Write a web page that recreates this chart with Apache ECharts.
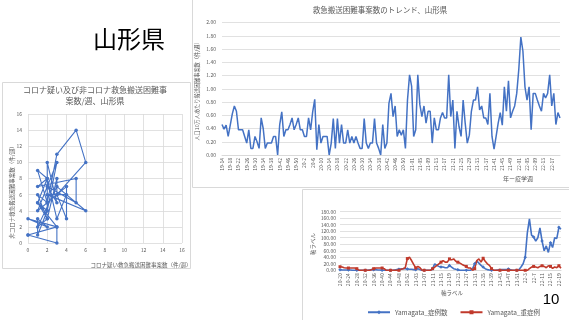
<!DOCTYPE html>
<html><head><meta charset="utf-8">
<script src="https://cdn.jsdelivr.net/npm/echarts/dist/echarts.min.js"></script>
<style>html,body{margin:0;padding:0;background:#fff}#c{width:569px;height:320px}</style>
</head><body><div id="c"></div>
<script>
const FONT = '"Noto Sans CJK JP", "Noto Sans", sans-serif';
const GRAY = '#595959';
const GRID = '#d9d9d9';
const BLUE = '#4472C4';
const RED = '#C0392B';

// ---- Left: scatter (connected) ----
const covidSuspect = [0,3,3,0,2,1,1,2,1,2,1,2,1,2,1,5,5,2,3,2,2,3,1,3,4,4,2,3,5,6,3,3,2,1,3,6,2,4,3,2,1,3,0];
const nonCovid     = [1,0,2,3,2,3,1,4,5,3,6,5,9,8,7,8,5,7,5,10,4,10,4,6,3,7,5,11,14,10,6,8,3,2,7,4,6,6,3,8,5,2,1];

// ---- Top right: trend ----
const trendStart = {year: 2019, week: 14};
const trendValues = [
 0.46,0.39,0.45,0.28,0.45,0.62,0.74,0.66,0.38,0.38,
 0.38,0.28,0.18,0.38,0.10,0.10,0.28,0.20,0.10,0.56,
 0.40,0.10,0.18,0.18,0.18,0.28,0.28,0.00,0.46,0.65,
 0.28,0.38,0.38,0.46,0.56,0.38,0.46,0.56,0.38,0.38,
 0.28,0.28,0.56,0.38,0.65,0.84,0.08,0.46,0.18,0.28,
 0.28,0.28,0.00,0.18,0.55,0.10,0.55,0.18,0.46,0.18,
 0.18,0.38,0.18,0.28,0.18,0.28,0.18,0.10,0.10,0.55,
 0.18,0.10,0.18,0.18,0.55,0.18,0.10,0.00,0.46,0.10,
 0.18,0.78,0.93,0.58,0.74,0.28,0.38,0.30,0.38,0.10,
 0.83,1.21,1.04,0.28,0.38,1.21,0.76,0.58,0.74,0.48,
 0.66,0.66,0.18,0.56,0.38,0.38,0.56,0.64,0.56,0.56,
 1.21,0.58,0.83,0.10,0.66,0.43,0.28,0.83,0.48,0.18,
 0.30,0.66,0.83,0.83,1.03,0.68,0.74,0.56,0.56,0.46,
 0.93,0.28,0.09,0.28,0.48,0.64,0.45,1.03,0.66,1.12,
 0.56,0.66,0.74,0.93,1.29,1.78,1.57,1.03,0.83,1.03,
 0.38,0.93,0.93,0.83,0.74,0.66,0.93,0.86,0.93,1.21,
 0.74,0.93,0.46,0.64,0.56
];

// ---- Bottom right: cases ----
const casesStart = {year: 2020, week: 20};
const casesValues = [
 2,1,1,1,1,1,0,0,0,0,
 0,0,0,0,1,2,2,2,1,1,
 0,0,0,0,0,0,1,2,3,4,
 5,5,4,3,3,2,2,5,2,0,
 0,0,0,0,5,20,15,12,10,10,
 8,8,15,10,5,3,2,0,0,0,
 0,0,0,5,20,28,22,15,10,5,
 2,1,0,0,0,1,1,2,2,2,
 4,2,0,0,0,2,10,20,40,115,
 158,108,102,90,100,130,90,60,75,55,
 85,70,100,98,132,126
];
const severeValues = [
 11,10,8,7,7,7,7,7,5,0,
 0,0,0,0,0,2,5,7,7,7,
 7,5,0,0,0,0,0,0,0,3,
 5,8,36,40,30,18,7,12,8,0,
 0,0,0,0,5,10,15,20,25,30,
 25,25,35,32,35,28,25,22,18,15,
 12,7,7,0,5,30,35,25,37,28,
 20,15,5,0,0,0,0,0,0,0,
 0,0,0,0,0,0,0,0,0,0,
 5,10,12,10,8,12,14,12,8,14,
 12,6,10,8,14,6
];

const weeksInYear = {2019:52, 2020:53, 2021:52, 2022:52};
function weekLabels(start, n, padYears) {
  const out = []; let y = start.year, w = start.week;
  for (let i = 0; i < n; i++) {
    const ws = padYears.includes(y) && w < 10 ? '0' + w : String(w);
    out.push(String(y % 100) + '-' + ws);
    w++; if (w > weeksInYear[y]) { w = 1; y++; }
  }
  return out;
}
const trendCategories = weekLabels(trendStart, trendValues.length, [2021, 2022]);
const casesCategories = weekLabels(casesStart, casesValues.length, [2021]);

const chart = echarts.init(document.getElementById('c'), null, {renderer: 'canvas'});

function txt(text, x, y, size, opts) {
  return Object.assign({
    type: 'text', x: x, y: y, silent: true,
    style: Object.assign({text: text, fill: GRAY, font: size + 'px ' + FONT,
      textAlign: 'center', textVerticalAlign: 'middle'}, (opts && opts.style) || {})
  }, opts && opts.rotation !== undefined ? {rotation: opts.rotation} : {});
}
function box(x, y, w, h) {
  return {type: 'rect', silent: true, shape: {x: x, y: y, width: w, height: h},
    style: {fill: 'none', stroke: GRID, lineWidth: 1}};
}

const axisLabelBase = {color: GRAY, fontFamily: FONT, fontSize: 5};

chart.setOption({
  animation: false,
  backgroundColor: '#fff',
  grid: [
    {left: 28, top: 114, width: 154, height: 129},
    {left: 222, top: 22.5, width: 338, height: 132.5},
    {left: 340, top: 211.7, width: 221, height: 58.6}
  ],
  xAxis: [
    {gridIndex: 0, type: 'value', min: 0, max: 16, interval: 2,
      axisLine: {show: false}, axisTick: {show: false},
      splitLine: {show: true, lineStyle: {color: GRID, width: 0.8}},
      axisLabel: Object.assign({margin: 5, formatter: v => String(v)}, axisLabelBase)},
    {gridIndex: 1, type: 'category', data: trendCategories, boundaryGap: false,
      axisLine: {lineStyle: {color: GRID}}, axisTick: {show: false},
      axisLabel: Object.assign({rotate: 90, interval: (i) => i % 4 === 0 && i <= 160, margin: 3}, axisLabelBase)},
    {gridIndex: 2, type: 'category', data: casesCategories, boundaryGap: false,
      axisLine: {lineStyle: {color: GRID}}, axisTick: {show: false},
      axisLabel: Object.assign({rotate: 90, interval: 3, margin: 3}, axisLabelBase)}
  ],
  yAxis: [
    {gridIndex: 0, type: 'value', min: 0, max: 16, interval: 2,
      axisLine: {show: false}, axisTick: {show: false},
      splitLine: {show: true, lineStyle: {color: GRID, width: 0.8}},
      axisLabel: Object.assign({margin: 6}, axisLabelBase)},
    {gridIndex: 1, type: 'value', min: 0, max: 2, interval: 0.2,
      axisLine: {show: false}, axisTick: {show: false},
      splitLine: {lineStyle: {color: GRID, width: 0.8}},
      axisLabel: Object.assign({margin: 6, formatter: v => v.toFixed(2)}, axisLabelBase)},
    {gridIndex: 2, type: 'value', min: 0, max: 180, interval: 20,
      axisLine: {show: false}, axisTick: {show: false},
      splitLine: {lineStyle: {color: GRID, width: 0.8}},
      axisLabel: Object.assign({margin: 4, formatter: v => v.toFixed(2)}, axisLabelBase)}
  ],
  legend: {
    data: ['Yamagata_症例数', 'Yamagata_重症例'],
    left: 362, top: 304, itemWidth: 22, itemHeight: 5, itemGap: 12,
    textStyle: {color: GRAY, fontFamily: FONT, fontSize: 6.5}
  },
  series: [
    {name: 'scatter', type: 'line', xAxisIndex: 0, yAxisIndex: 0,
      data: covidSuspect.map((x, i) => [x, nonCovid[i]]),
      symbol: 'circle', symbolSize: 3.5, showSymbol: true,
      lineStyle: {color: BLUE, width: 1.1}, itemStyle: {color: BLUE}},
    {name: 'trend', type: 'line', xAxisIndex: 1, yAxisIndex: 1,
      data: trendValues, showSymbol: false,
      lineStyle: {color: BLUE, width: 1.5}, itemStyle: {color: BLUE}},
    {name: 'Yamagata_症例数', type: 'line', xAxisIndex: 2, yAxisIndex: 2,
      data: casesValues, symbol: 'diamond', symbolSize: 3.5, showSymbol: true,
      lineStyle: {color: BLUE, width: 1.6}, itemStyle: {color: BLUE}},
    {name: 'Yamagata_重症例', type: 'line', xAxisIndex: 2, yAxisIndex: 2,
      data: severeValues, symbol: 'rect', symbolSize: 3, showSymbol: true,
      lineStyle: {color: RED, width: 1.6}, itemStyle: {color: RED}}
  ],
  graphic: [
    box(2.5, 82.5, 188, 186),
    box(192.5, -1, 378, 188.5),
    box(302.5, 189.5, 268, 132),
    txt('山形県', 129, 39, 24, {style: {fill: '#000'}}),
    txt('コロナ疑い及び非コロナ救急搬送困難事', 95, 90, 8),
    txt('案数/週、山形県', 95, 101, 8),
    txt('非コロナ救急搬送困難事案数（件/週）', 12, 191, 5.5, {rotation: Math.PI / 2}),
    txt('コロナ疑い救急搬送困難事案数（件/週）', 141, 265, 5.5),
    txt('救急搬送困難事案数のトレンド、山形県', 380, 10, 7.5),
    txt('人口10万人あたり搬送困難事案数（件/週）', 197, 90, 5.2, {rotation: Math.PI / 2}),
    txt('年ー疫学週', 518, 179, 6),
    txt('軸ラベル', 313, 244, 5.5, {rotation: Math.PI / 2}),
    txt('軸ラベル', 452, 293, 5.5),
    txt('10', 551, 300, 15, {style: {fill: '#000', font: '15px "Liberation Sans", Arial, sans-serif'}})
  ]
});
</script>
</body></html>
